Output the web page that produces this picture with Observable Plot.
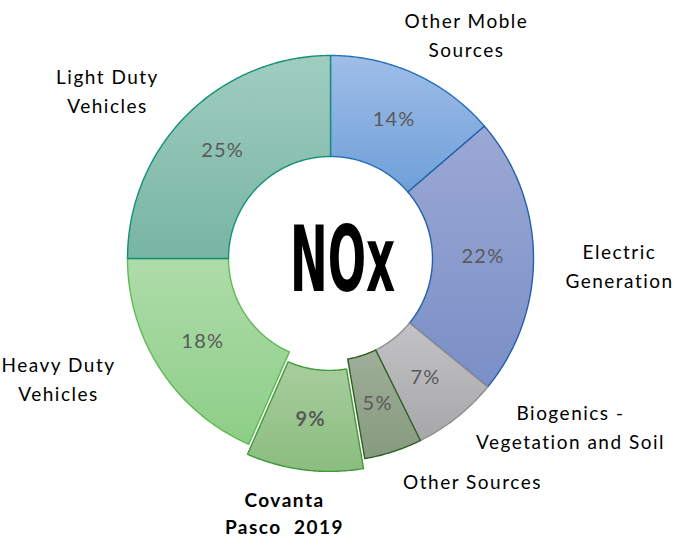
<!DOCTYPE html>
<html><head><meta charset="utf-8">
<script src="https://cdn.jsdelivr.net/npm/d3@7"></script>
<script src="https://cdn.jsdelivr.net/npm/@observablehq/plot@0.6"></script>
<style>body{margin:0;background:#fff}</style>
</head><body><div id="chart"></div>
<script>
// ---- data (clockwise from 12 o'clock) ----
const categories = ["Other Moble Sources", "Electric Generation", "Biogenics - Vegetation and Soil", "Other Sources", "Covanta Pasco 2019", "Heavy Duty Vehicles", "Light Duty Vehicles"];
const shares = [13.7, 22.2, 6.8, 4.6, 9.3, 18.4, 25.0];
const labelText = ["Other Moble\nSources", "Electric\nGeneration", "Biogenics -\nVegetation and Soil", "Other Sources", "Covanta\nPasco  2019", "Heavy Duty\nVehicles", "Light Duty\nVehicles"];
const highlighted = [false, false, false, false, true, false, false];
const centerTitle = "NOx";

// ---- style / layout ----
const W = 678, H = 538, CX = 330, CY = 258, R_OUT = 203, R_IN = 102;
const explode = [0, 0, 0, 0, 10, 0, 0];
const gradTop = ["#9fbee8", "#9ba8d4", "#c3c3c6", "#9fae99", "#a8cd9d", "#aedca9", "#a0cdc0"];
const gradBot = ["#6f9fd8", "#7a8fc7", "#a7a7a9", "#859b7e", "#8bbd7f", "#8dce87", "#78b5a2"];
const strokes = ["#2470b8", "#2260ac", "#8e8e90", "#2f5e22", "#3f9a3a", "#5ebb52", "#12907a"];
const labelPos = [[466, 33], [619, 264], [570, 425], [472, 479], [284, 511], [58, 377], [107, 89]];

const total = d3.sum(shares);
let cum = 0;
const slices = shares.map((v, i) => {
  const a0 = cum / total * 2 * Math.PI;
  cum += v;
  const a1 = cum / total * 2 * Math.PI;
  const mid = (a0 + a1) / 2;
  const ex = explode[i] * Math.sin(mid), ey = -explode[i] * Math.cos(mid);
  const n = Math.max(4, Math.ceil((a1 - a0) / 0.01));
  const pts = [];
  for (let k = 0; k <= n; k++) {
    const a = a0 + (a1 - a0) * k / n;
    pts.push({x: CX + ex + R_OUT * Math.sin(a), y: CY + ey - R_OUT * Math.cos(a)});
  }
  for (let k = n; k >= 0; k--) {
    const a = a0 + (a1 - a0) * k / n;
    pts.push({x: CX + ex + R_IN * Math.sin(a), y: CY + ey - R_IN * Math.cos(a)});
  }
  pts.push(pts[0]);
  const rm = (R_OUT + R_IN) / 2;
  return {
    i, name: categories[i], pts,
    px: CX + ex + rm * Math.sin(mid), py: CY + ey - rm * Math.cos(mid),
    pct: Math.round(v / total * 100) + "%",
    bold: highlighted[i]
  };
});

const labels = categories.map((c, i) => ({text: labelText[i], x: labelPos[i][0], y: labelPos[i][1], bold: highlighted[i]}));

const marks = slices.map(s => Plot.line(s.pts, {
  x: "x", y: "y", fill: `url(#g${s.i})`, stroke: strokes[s.i], strokeWidth: 1.4, curve: "linear"
}));

const FONT = "Lato, 'Open Sans', sans-serif";
marks.push(
  Plot.text(slices.filter(s => !s.bold), {x: "px", y: "py", text: "pct", fill: "#595959", fontSize: 20, fontFamily: FONT}),
  Plot.text(slices.filter(s => s.bold), {x: "px", y: "py", text: "pct", fill: "#595959", fontSize: 20, fontWeight: "bold", fontFamily: FONT}),
  Plot.text(labels.filter(d => !d.bold), {x: "x", y: "y", text: "text", fill: "#000", fontSize: 19, lineHeight: 1.52, fontFamily: FONT}),
  Plot.text(labels.filter(d => d.bold), {x: "x", y: "y", text: "text", fill: "#000", fontSize: 19, fontWeight: "bold", lineHeight: 1.42, fontFamily: FONT}),
  Plot.text([centerTitle], {x: 342, y: 262, text: d => d, fill: "#000", fontSize: 90, fontWeight: "bold", fontFamily: "'DejaVu Sans Condensed', 'Liberation Sans Narrow', sans-serif"})
);

const svg = Plot.plot({
  width: W, height: H, margin: 0,
  x: {domain: [0, W], range: [0, W], axis: null},
  y: {domain: [0, H], range: [0, H], axis: null},
  style: {background: "#fff", overflow: "visible"},
  marks
});

const defs = d3.select(svg).insert("defs", ":first-child");
slices.forEach(s => {
  const g = defs.append("linearGradient").attr("id", `g${s.i}`).attr("x1", 0).attr("y1", 0).attr("x2", 0).attr("y2", 1);
  g.append("stop").attr("offset", "0%").attr("stop-color", gradTop[s.i]);
  g.append("stop").attr("offset", "100%").attr("stop-color", gradBot[s.i]);
});
const pctSet = new Set(slices.map(s => s.pct));
d3.select(svg).selectAll("text").each(function() {
  const t = this.textContent;
  if (t === centerTitle) {
    d3.select(this).attr("textLength", 105).attr("lengthAdjust", "spacingAndGlyphs");
  } else if (pctSet.has(t)) {
    d3.select(this).attr("letter-spacing", "1.2px");
  } else if (this.querySelector("tspan") === null) {
    d3.select(this).attr("letter-spacing", "1.5px");
  }
});
d3.select(svg).selectAll("tspan").attr("letter-spacing", "1.5px");
document.getElementById("chart").appendChild(svg);
</script>
</body></html>
